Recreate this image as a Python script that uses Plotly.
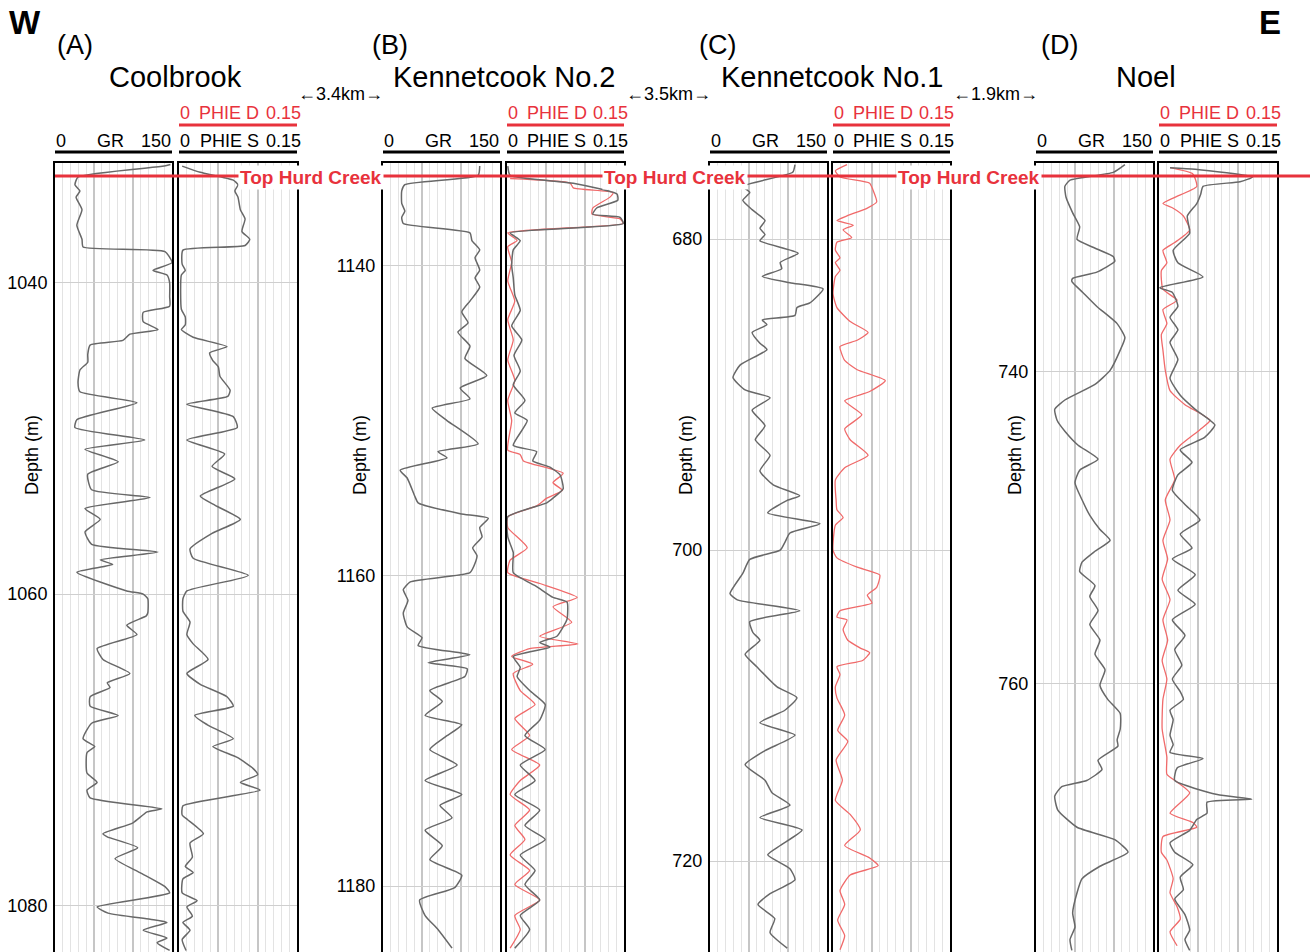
import plotly.graph_objects as go

# ------------------------------------------------------------------ data
wells = ["Coolbrook", "Kennetcook No.2", "Kennetcook No.1", "Noel"]
panel_letters = ["(A)", "(B)", "(C)", "(D)"]
distances = ["3.4km", "3.5km", "1.9km"]
marker_name = "Top Hurd Creek"
gr_range = [0, 150]
phie_range = [0, 0.15]
depth_dtick = 20

# Well A - Coolbrook
A_GR_depth = [1032.4, 1032.5, 1033.2, 1033.7, 1034.1, 1034.5, 1035.3, 1036.3, 1037.2, 1037.7,
              1038.0, 1038.7, 1039.2, 1039.5, 1040.0, 1040.9, 1041.5, 1041.9, 1042.5, 1043.0,
              1043.3, 1043.7, 1044.0, 1044.6, 1045.1, 1045.6, 1046.4, 1047.0, 1047.7, 1048.8,
              1049.3, 1050.1, 1050.7, 1051.5, 1052.3, 1053.3, 1053.8, 1054.5, 1055.2, 1056.0,
              1056.8, 1057.3, 1057.8, 1058.1, 1058.6, 1059.8, 1060.0, 1060.3, 1061.2, 1061.4,
              1062.0, 1062.6, 1063.5, 1064.2, 1065.1, 1065.7, 1066.0, 1066.6, 1067.2, 1067.8,
              1068.3, 1069.3, 1069.8, 1070.2, 1071.5, 1072.1, 1072.6, 1073.1, 1073.8, 1074.0,
              1074.7, 1075.4, 1075.6, 1076.3, 1077.0, 1077.9, 1078.8, 1079.2, 1080.1, 1080.5,
              1080.9, 1081.1, 1081.6, 1082.1, 1082.4, 1082.9]
A_GR = [148, 140, 29.5, 25.6, 32, 27, 34.6, 28, 34.6, 36,
        141, 150, 125.6, 143.6, 147, 147, 147, 113, 113, 132,
        96, 87, 45, 42, 42, 32, 29.5, 32, 105, 28,
        25.6, 115, 38.5, 81, 42, 47, 122, 38.5, 58, 38.5,
        47, 132, 58, 74, 28, 92, 113, 119, 119, 117,
        92, 105, 54, 61.5, 96, 67, 70.5, 45, 45, 81,
        47, 36, 51, 41, 41, 54, 41, 45, 137, 118,
        100, 61.5, 67, 106, 77, 109, 141, 147, 54, 68,
        122, 143.6, 113, 143.6, 131, 147]
A_PHIES_depth = [1032.5, 1032.9, 1033.4, 1033.7, 1034.1, 1034.5, 1035.3, 1035.9, 1036.7, 1037.2,
                 1037.6, 1037.9, 1038.8, 1039.2, 1039.5, 1041.7, 1042.2, 1042.7, 1043.0, 1043.5,
                 1044.1, 1044.5, 1045.0, 1045.4, 1046.0, 1046.9, 1047.3, 1047.8, 1048.6, 1049.3,
                 1050.1, 1051.0, 1051.8, 1052.6, 1053.7, 1054.3, 1055.2, 1056.1, 1057.1, 1057.7,
                 1058.8, 1059.8, 1060.3, 1061.1, 1061.8, 1062.6, 1063.2, 1064.2, 1065.1, 1065.8,
                 1066.6, 1067.2, 1067.8, 1068.4, 1069.3, 1069.8, 1070.5, 1071.2, 1071.6, 1072.1,
                 1072.6, 1073.6, 1074.2, 1074.5, 1075.4, 1076.0, 1076.9, 1077.5, 1077.9, 1078.3,
                 1079.2, 1079.7, 1080.1, 1080.7, 1081.1, 1081.6, 1082.2, 1082.9]
A_PHIES = [0.004, 0.027, 0.069, 0.075, 0.071, 0.075, 0.078, 0.084, 0.080, 0.090,
           0.084, 0.005, 0.004, 0.008, 0.003, 0.003, 0.008, 0.008, 0.003, 0.018,
           0.061, 0.039, 0.043, 0.050, 0.052, 0.065, 0.062, 0.010, 0.069, 0.074,
           0.010, 0.058, 0.042, 0.071, 0.027, 0.046, 0.078, 0.042, 0.014, 0.018,
           0.088, 0.010, 0.005, 0.005, 0.014, 0.010, 0.018, 0.037, 0.010, 0.027,
           0.061, 0.069, 0.020, 0.036, 0.069, 0.043, 0.074, 0.094, 0.100, 0.078,
           0.103, 0.005, 0.004, 0.011, 0.031, 0.014, 0.017, 0.008, 0.018, 0.005,
           0.004, 0.023, 0.010, 0.017, 0.005, 0.014, 0.004, 0.009]
A_PHIED_depth = []
A_PHIED = []

# Well B - Kennetcook No.2
B_GR_depth = [1133.6, 1134.2, 1134.8, 1135.2, 1136.0, 1136.5, 1136.9, 1137.3, 1137.9, 1138.4,
              1139.0, 1139.5, 1140.3, 1140.8, 1141.4, 1142.3, 1143.0, 1143.7, 1144.3, 1145.2,
              1146.0, 1147.1, 1147.9, 1148.6, 1149.2, 1150.0, 1151.5, 1152.0, 1152.4, 1153.2,
              1153.7, 1154.9, 1155.3, 1156.0, 1156.3, 1156.9, 1157.5, 1158.2, 1158.7, 1159.2,
              1159.8, 1160.4, 1160.9, 1161.6, 1162.4, 1163.3, 1164.0, 1164.5, 1165.1, 1165.6,
              1166.0, 1166.5, 1167.4, 1168.1, 1169.0, 1169.6, 1170.4, 1171.2, 1172.2, 1173.2,
              1174.1, 1174.8, 1175.6, 1176.4, 1177.4, 1178.3, 1179.3, 1180.1, 1180.9, 1181.9,
              1182.8, 1184.0]
B_GR = [124, 122, 28, 24, 24, 28, 24, 26, 111.5, 114,
        124, 118, 124, 118, 124, 111.5, 101, 109, 96, 111.5,
        105, 133, 99, 111.5, 63, 82, 122, 70.5, 82, 22,
        31, 41, 45, 99, 135, 124, 127, 115, 120.5, 118,
        111.5, 35, 26, 32, 26, 31, 50, 45, 111.5, 58,
        108, 105, 60, 76, 54, 101, 79.5, 60, 95, 54,
        101, 73, 88.5, 54, 76, 60, 101, 92, 47, 54,
        70.5, 88.5]
B_PHIES_depth = [1133.6, 1134.2, 1134.7, 1135.4, 1135.8, 1136.3, 1136.7, 1136.9, 1137.3, 1137.9,
                 1138.4, 1139.0, 1140.0, 1140.8, 1141.9, 1142.9, 1143.9, 1144.8, 1145.8, 1146.8,
                 1147.7, 1148.7, 1149.5, 1150.0, 1151.6, 1152.0, 1152.6, 1153.0, 1153.5, 1154.4,
                 1155.0, 1155.3, 1156.2, 1157.5, 1158.5, 1159.8, 1160.7, 1161.4, 1161.7, 1162.8,
                 1163.3, 1163.9, 1164.3, 1164.6, 1165.2, 1165.9, 1166.5, 1167.4, 1168.3, 1169.3,
                 1170.3, 1171.2, 1172.2, 1173.2, 1174.1, 1175.1, 1176.1, 1177.0, 1178.0, 1179.0,
                 1179.9, 1180.9, 1181.9, 1182.8, 1184.0]
B_PHIES = [0.001, 0.004, 0.085, 0.141, 0.142, 0.115, 0.110, 0.145, 0.149, 0.004,
           0.017, 0.008, 0.006, 0.008, 0.010, 0.017, 0.006, 0.019, 0.009, 0.017,
           0.008, 0.023, 0.010, 0.026, 0.008, 0.038, 0.033, 0.055, 0.068, 0.072,
           0.059, 0.051, 0.001, 0.001, 0.008, 0.008, 0.038, 0.059, 0.077, 0.077,
           0.072, 0.064, 0.042, 0.055, 0.008, 0.017, 0.013, 0.029, 0.049, 0.042,
           0.023, 0.049, 0.017, 0.036, 0.010, 0.042, 0.023, 0.049, 0.017, 0.036,
           0.023, 0.042, 0.017, 0.029, 0.010]
B_PHIED_depth = [1134.4, 1134.7, 1135.0, 1135.3, 1135.6, 1136.3, 1136.7, 1137.0, 1137.3, 1137.9,
                 1138.4, 1138.8, 1139.8, 1141.0, 1142.3, 1143.5, 1144.8, 1146.1, 1147.4, 1148.7,
                 1150.0, 1151.9, 1152.2, 1152.6, 1153.4, 1154.0, 1154.5, 1155.0, 1155.5, 1156.2,
                 1156.9, 1158.2, 1159.0, 1159.8, 1160.5, 1161.4, 1162.0, 1163.0, 1163.9, 1164.4,
                 1164.7, 1165.2, 1165.7, 1166.3, 1167.4, 1168.3, 1169.2, 1170.3, 1171.2, 1172.2,
                 1173.2, 1174.1, 1175.1, 1176.1, 1177.0, 1178.0, 1179.0, 1179.9, 1180.9, 1181.9,
                 1182.8, 1184.0]
B_PHIED = [0.004, 0.081, 0.085, 0.136, 0.132, 0.110, 0.109, 0.145, 0.149, 0.001,
           0.013, 0.001, 0.006, 0.001, 0.010, 0.001, 0.008, 0.001, 0.010, 0.001,
           0.006, 0.001, 0.017, 0.021, 0.072, 0.059, 0.071, 0.051, 0.038, 0.001,
           0.001, 0.026, 0.004, 0.001, 0.042, 0.090, 0.059, 0.083, 0.042, 0.091,
           0.029, 0.006, 0.033, 0.008, 0.017, 0.036, 0.010, 0.029, 0.006, 0.042,
           0.017, 0.004, 0.029, 0.010, 0.023, 0.004, 0.029, 0.010, 0.042, 0.010,
           0.017, 0.004]

# Well C - Kennetcook No.1
C_GR_depth = [675.2, 675.7, 676.6, 677.0, 677.5, 678.1, 678.8, 679.3, 679.7, 680.1,
              680.9, 681.5, 681.9, 682.4, 682.8, 683.2, 684.1, 684.4, 684.9, 685.2,
              685.5, 686.0, 686.7, 687.1, 688.1, 688.9, 689.7, 690.2, 691.0, 692.0,
              692.9, 693.9, 694.9, 695.8, 696.5, 696.8, 697.6, 698.3, 698.9, 699.5,
              700.0, 700.6, 701.5, 702.8, 703.2, 703.9, 704.6, 705.3, 705.8, 706.7,
              707.5, 708.8, 709.5, 710.3, 711.1, 711.9, 712.9, 713.8, 714.8, 715.6,
              716.4, 717.2, 718.0, 719.0, 719.6, 720.5, 721.2, 722.1, 722.8, 723.7,
              724.6, 725.6]
C_GR = [109, 106, 42, 51, 42, 54, 70.5, 64, 70.5, 64,
        113, 90, 92, 67, 102.5, 145, 128, 111.5, 109, 67,
        73, 54, 64, 73, 38.5, 29.5, 45, 77, 54, 70.5,
        58, 77, 64, 81, 115, 99, 74, 141, 102.5, 96,
        90, 51, 42, 25.6, 35, 115, 51, 55, 64, 45,
        60, 86, 111.5, 96, 64, 109, 70.5, 45, 70.5, 79.5,
        102.5, 64, 118, 90, 74, 102.5, 109, 77, 61.5, 83,
        77, 99]
C_PHIES_depth = []
C_PHIES = []
C_PHIED_depth = [675.2, 675.6, 676.0, 676.4, 676.8, 677.6, 678.0, 678.5, 678.8, 679.1,
                 679.4, 679.9, 680.2, 680.7, 681.2, 681.5, 682.0, 682.4, 683.5, 684.4,
                 685.3, 686.0, 686.5, 686.9, 687.8, 688.4, 689.1, 689.8, 690.4, 691.3,
                 692.2, 692.9, 693.9, 694.7, 695.5, 696.8, 697.4, 697.9, 698.4, 700.0,
                 700.5, 701.1, 701.6, 702.4, 702.9, 703.4, 703.9, 704.3, 704.5, 705.1,
                 705.8, 706.3, 706.6, 707.1, 707.5, 708.0, 708.8, 709.5, 710.6, 711.6,
                 712.3, 713.5, 714.8, 716.1, 717.0, 718.0, 719.0, 719.8, 720.3, 720.9,
                 721.9, 722.8, 723.8, 724.8, 725.7]
C_PHIED = [0.018, 0.003, 0.009, 0.047, 0.051, 0.056, 0.044, 0.018, 0.005, 0.026,
           0.013, 0.024, 0.005, 0.003, 0.009, 0.003, 0.009, 0.003, 0.000, 0.005,
           0.022, 0.045, 0.031, 0.009, 0.015, 0.031, 0.067, 0.047, 0.015, 0.037,
           0.015, 0.022, 0.045, 0.015, 0.003, 0.004, 0.005, 0.013, 0.003, 0.000,
           0.005, 0.031, 0.060, 0.056, 0.044, 0.050, 0.009, 0.005, 0.018, 0.013,
           0.019, 0.035, 0.047, 0.038, 0.005, 0.009, 0.003, 0.005, 0.015, 0.006,
           0.019, 0.004, 0.012, 0.003, 0.022, 0.035, 0.015, 0.047, 0.058, 0.022,
           0.009, 0.015, 0.006, 0.015, 0.009]

# Well D - Noel
D_GR_depth = [726.7, 727.2, 727.7, 728.1, 728.8, 729.8, 730.7, 731.5, 732.0, 732.6,
              732.9, 733.6, 734.0, 734.2, 734.9, 735.8, 736.9, 737.8, 738.6, 739.9,
              740.8, 741.8, 742.4, 743.1, 743.8, 744.7, 745.6, 746.3, 747.1, 748.2,
              749.2, 750.1, 750.8, 751.5, 752.2, 752.8, 753.7, 754.4, 755.3, 756.2,
              757.2, 758.1, 759.1, 760.1, 761.0, 761.9, 762.9, 763.6, 764.0, 764.9,
              765.5, 766.2, 766.6, 767.2, 768.1, 769.2, 770.0, 770.8, 771.7, 772.5,
              773.4, 774.7, 775.6, 776.4, 777.1]
D_GR = [114, 99, 43.6, 37, 38.5, 47, 56, 52.6, 73, 99,
        101, 78, 47, 46, 60, 78, 104, 114, 108, 95,
        75.6, 37, 24, 27, 37, 54, 79.5, 56, 50, 59,
        69, 82, 95, 75.6, 59, 56, 75.6, 69, 79.5, 69,
        82, 75.6, 88.5, 82, 92, 108, 108, 104, 105, 79.5,
        84.6, 65, 33, 24, 28, 52.6, 101, 118, 82, 59,
        52.6, 47, 50, 43.6, 46]
D_PHIES_depth = [726.9, 727.0, 727.5, 727.8, 728.1, 728.6, 729.2, 730.0, 731.1, 732.2,
                 733.0, 733.9, 734.6, 734.9, 735.8, 736.5, 737.3, 738.1, 739.2, 740.4,
                 741.5, 742.4, 743.4, 744.2, 745.0, 745.8, 746.6, 747.6, 748.5, 749.5,
                 750.4, 751.3, 752.0, 753.0, 754.0, 754.9, 755.9, 756.9, 757.8, 758.8,
                 759.7, 760.5, 761.0, 761.7, 762.3, 763.3, 763.9, 764.4, 764.8, 765.4,
                 766.2, 767.1, 767.4, 767.6, 768.3, 768.7, 769.4, 770.2, 770.8, 771.6,
                 772.4, 773.2, 773.8, 774.8, 775.8, 776.4, 777.1]
D_PHIES = [0.014, 0.046, 0.119, 0.103, 0.056, 0.053, 0.048, 0.036, 0.039, 0.018,
           0.024, 0.056, 0.001, 0.017, 0.024, 0.014, 0.024, 0.014, 0.024, 0.014,
           0.027, 0.046, 0.071, 0.058, 0.027, 0.042, 0.024, 0.017, 0.033, 0.052,
           0.027, 0.042, 0.017, 0.046, 0.024, 0.046, 0.017, 0.033, 0.020, 0.029,
           0.017, 0.027, 0.031, 0.014, 0.018, 0.014, 0.018, 0.014, 0.056, 0.023,
           0.020, 0.074, 0.118, 0.061, 0.061, 0.048, 0.039, 0.014, 0.020, 0.043,
           0.027, 0.031, 0.020, 0.033, 0.039, 0.033, 0.039]
D_PHIED_depth = [726.9, 727.3, 728.1, 728.8, 729.2, 729.5, 730.0, 730.9, 731.7, 732.2,
                 733.0, 733.5, 734.7, 735.4, 736.0, 736.9, 737.6, 738.6, 739.9, 741.2,
                 742.1, 743.1, 743.7, 744.7, 745.6, 746.9, 748.2, 749.5, 750.8, 752.0,
                 753.3, 754.6, 755.9, 757.2, 758.5, 759.7, 761.0, 762.9, 764.7, 765.8,
                 766.3, 767.0, 768.3, 768.9, 769.2, 769.8, 770.8, 771.3, 772.5, 773.4,
                 774.3, 775.1, 775.9, 776.8]
D_PHIED = [0.014, 0.043, 0.048, 0.020, 0.005, 0.018, 0.031, 0.039, 0.020, 0.005,
           0.010, 0.003, 0.005, 0.023, 0.005, 0.010, 0.003, 0.005, 0.008, 0.014,
           0.033, 0.065, 0.052, 0.027, 0.014, 0.020, 0.008, 0.014, 0.005, 0.011,
           0.004, 0.014, 0.005, 0.011, 0.004, 0.010, 0.005, 0.004, 0.010, 0.010,
           0.023, 0.039, 0.014, 0.043, 0.048, 0.005, 0.003, 0.010, 0.018, 0.014,
           0.023, 0.027, 0.014, 0.023]

curves = [
    (A_GR_depth, A_GR, A_PHIES_depth, A_PHIES, A_PHIED_depth, A_PHIED),
    (B_GR_depth, B_GR, B_PHIES_depth, B_PHIES, B_PHIED_depth, B_PHIED),
    (C_GR_depth, C_GR, C_PHIES_depth, C_PHIES, C_PHIED_depth, C_PHIED),
    (D_GR_depth, D_GR, D_PHIES_depth, D_PHIES, D_PHIED_depth, D_PHIED),
]

# ------------------------------------------------------------------ layout (pixels)
W, H = 1310, 952
track_px = [((55, 172), (179, 297)), ((383, 500), (507, 624)),
            ((710, 827), (833, 950)), ((1036, 1153), (1159, 1277))]
depth_view = [(1083.0, 1032.3), (1184.25, 1133.4), (725.85, 675.1), (777.2, 726.6)]
track_top = 163
name_cx = [175, 504, 832, 1146]
letter_cx = [75, 390, 717, 1059]
dist_cx = [340, 668, 995]
depth_label_cx = [32, 360, 686, 1015]
marker_label_cx = [311, 675, 969]
marker_y = 176

FONT = "Arial, Liberation Sans, sans-serif"
GRAY = "#686868"
PINK = "#f06a6a"
RED = "#e8323c"


def fx(px):
    return px / W


def fy(py):
    return 1 - py / H


fig = go.Figure()
ydom = [0, fy(track_top)]
annotations = []
shapes = []


def txt(x, y, text, size, color="black", xanchor="center", bold=False, **kw):
    t = f"<b>{text}</b>" if bold else text
    annotations.append(dict(x=fx(x), y=fy(y), xref="paper", yref="paper", text=t,
                            showarrow=False, xanchor=xanchor, yanchor="middle",
                            font=dict(family=FONT, size=size, color=color), **kw))


for i in range(4):
    gx, px_ = track_px[i]
    ng, nphi = 2 * i + 1, 2 * i + 2
    gr_d, gr_v, ps_d, ps_v, pd_d, pd_v = curves[i]

    fig.add_trace(go.Scatter(x=gr_v, y=gr_d, mode="lines", xaxis=f"x{ng}", yaxis=f"y{ng}",
                             line=dict(color=GRAY, width=1.5, shape="spline", smoothing=0.5),
                             hoverinfo="skip"))
    if pd_v:
        fig.add_trace(go.Scatter(x=pd_v, y=pd_d, mode="lines", xaxis=f"x{nphi}", yaxis=f"y{nphi}",
                                 line=dict(color=PINK, width=1.3, shape="spline", smoothing=0.5),
                                 hoverinfo="skip"))
    if ps_v:
        fig.add_trace(go.Scatter(x=ps_v, y=ps_d, mode="lines", xaxis=f"x{nphi}", yaxis=f"y{nphi}",
                                 line=dict(color=GRAY, width=1.5, shape="spline", smoothing=0.5),
                                 hoverinfo="skip"))

    for n, (x0, x1), rng, maj, mnr in [(ng, gx, gr_range, 50, 10),
                                       (nphi, px_, phie_range, 0.05, 0.01)]:
        fig.layout[f"xaxis{n}"] = dict(
            domain=[fx(x0), fx(x1)], anchor=f"y{n}", range=rng, dtick=maj, tick0=0,
            showgrid=True, gridcolor="#c6c6c6", gridwidth=1.5,
            minor=dict(dtick=mnr, tick0=0, showgrid=True, gridcolor="#e3e3e3", gridwidth=1),
            showticklabels=False, ticks="", zeroline=False, showline=True,
            linecolor="black", linewidth=2, mirror=True, fixedrange=True)
        ya = dict(domain=ydom, anchor=f"x{n}", range=list(depth_view[i]), dtick=depth_dtick,
                  tick0=0, showgrid=True, gridcolor="#cfcfcf", gridwidth=1, ticks="",
                  zeroline=False, showline=True, linecolor="black", linewidth=2, mirror=True,
                  fixedrange=True, tickfont=dict(family=FONT, size=18, color="black"))
        if n == nphi:
            ya.update(matches=f"y{ng}", showticklabels=False)
        else:
            ya.update(showticklabels=True, ticklabelstandoff=2)
        fig.layout[f"yaxis{n}"] = ya

    # header lines
    for (x0, x1), yline, col in [(gx, 152, "black"), (px_, 152, "black"), (px_, 125, RED)]:
        shapes.append(dict(type="line", xref="paper", yref="paper", x0=fx(x0), x1=fx(x1),
                           y0=fy(yline), y1=fy(yline), line=dict(color=col, width=3)))

    # GR header
    txt(gx[0] - 1, 141, "0", 18, xanchor="left")
    txt((gx[0] + gx[1]) / 2 - 3, 141, "GR", 18)
    txt(gx[1] + 1, 141, "150", 18, xanchor="right")
    # PHIE headers
    for yy, lab, col in [(141, "PHIE S", "black"), (113, "PHIE D", RED)]:
        txt(px_[0] - 1, yy, "0", 18, color=col, xanchor="left")
        txt((px_[0] + px_[1]) / 2 - 9, yy, lab, 18, color=col)
        txt(px_[1] + 6, yy, "0.15", 18, color=col, xanchor="right")

    txt(name_cx[i], 77, wells[i], 29)
    txt(letter_cx[i], 45, panel_letters[i], 27)
    txt(depth_label_cx[i], 455, "Depth (m)", 18, textangle=-90)

for j in range(3):
    txt(dist_cx[j], 94, f"\u2190{distances[j]}\u2192", 18)

txt(25, 22, "W", 33, bold=True)
txt(1270, 22, "E", 33, bold=True)

# formation top line and labels
shapes.append(dict(type="line", xref="paper", yref="paper", x0=fx(55), x1=1.0,
                   y0=fy(marker_y), y1=fy(marker_y), layer="above",
                   line=dict(color=RED, width=3)))
for cx in marker_label_cx:
    txt(cx, marker_y + 1, marker_name, 19, color=RED, bold=True, bgcolor="white", borderpad=1)

fig.update_layout(width=W, height=H, margin=dict(l=0, r=0, t=0, b=0),
                  paper_bgcolor="white", plot_bgcolor="white", showlegend=False,
                  hovermode=False, annotations=annotations, shapes=shapes)

fig.write_html("out.html", config={"displayModeBar": False})
